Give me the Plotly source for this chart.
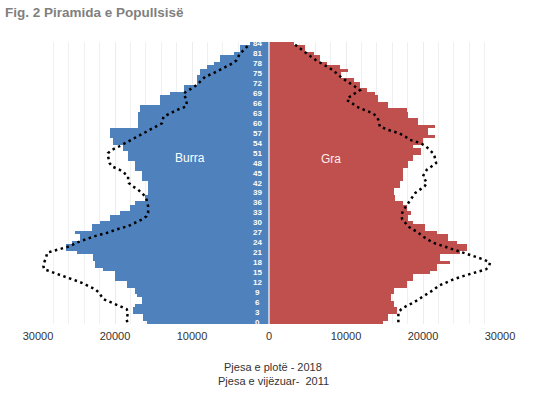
import plotly.graph_objects as go

ages = list(range(85))

male_2018 = [15900, 16300, 16300, 17600, 17600, 17400, 16500, 16500, 17200, 17400,
             17400, 18500, 18500, 20000, 20000, 20000, 21500, 22600, 22600, 22800,
             22800, 25000, 26300, 26300, 25600, 24500, 24500, 25200, 23000, 23000,
             21900, 20600, 20600, 19400, 18000, 18000, 17400, 16100, 16100, 15700,
             15700, 15700, 15700, 16500, 16500, 16500, 17400, 17400, 17400, 18300,
             18300, 18300, 18900, 18900, 20200, 20200, 20600, 20600, 20600, 17000,
             17000, 17000, 17000, 17000, 16700, 16700, 14200, 14200, 14200, 12900,
             11100, 11100, 9400, 9400, 9400, 9000, 9000, 8100, 7200, 6400,
             6400, 4600, 3800, 3800, 2500]

female_2018 = [14800, 15500, 15500, 16600, 16600, 16200, 16200, 15900, 15900, 16200,
               16200, 17900, 17900, 18700, 18700, 20900, 21800, 21800, 23500, 22200,
               22200, 24800, 25700, 25700, 24400, 23300, 23300, 21800, 20300, 20300,
               18700, 18100, 18100, 18500, 17900, 17900, 17400, 16400, 16400, 16200,
               16200, 17000, 17000, 17400, 17400, 17400, 17400, 18100, 18100, 18700,
               18700, 19800, 19800, 18700, 20000, 20000, 21600, 20700, 20700, 21600,
               19400, 19400, 18100, 18100, 17900, 15500, 15500, 14200, 14200, 13800,
               12700, 11800, 11800, 11000, 9400, 9400, 10300, 9200, 7500, 6600,
               6600, 5800, 4700, 4700, 3200]

male_2011 = [18400, 18500, 18400, 18300, 18500, 19400, 20500, 21500, 21800, 22100,
             22600, 23500, 24400, 25600, 26700, 28000, 29200, 29300, 29200, 29000,
             28900, 28800, 27300, 25800, 25000, 23900, 22600, 21000, 19800, 18300,
             17400, 16500, 15900, 15700, 15700, 15700, 15800, 15900, 16100, 16500,
             17000, 17700, 18200, 18300, 18300, 18800, 19400, 20400, 20700, 20800,
             20900, 20900, 20400, 19500, 18700, 17800, 17000, 16200, 15400, 14600,
             13900, 13800, 13700, 12800, 12000, 10800, 10700, 10700, 10900, 11100,
             10400, 9700, 9200, 8700, 8300, 7300, 6400, 5600, 4800, 4200,
             4000, 3800, 3300, 2900, 2500]

female_2011 = [16800, 16800, 16800, 16800, 17200, 17900, 18800, 19500, 20200, 20900,
               21500, 22000, 23000, 24000, 25300, 26800, 28200, 28600, 28700, 27800,
               26500, 25000, 23600, 22500, 21300, 20600, 19900, 19400, 18700, 18000,
               17700, 17300, 17200, 17300, 17500, 17800, 18000, 18300, 18600, 19000,
               19600, 20200, 20500, 20200, 20000, 20200, 20500, 21100, 21700, 21600,
               21500, 21300, 20900, 20400, 19700, 18300, 17700, 16900, 15500, 14400,
               14300, 14200, 14000, 13500, 12400, 11400, 10800, 10100, 10500, 11100,
               11800, 11200, 10500, 9900, 9300, 8800, 8300, 7600, 6800, 6100,
               5500, 4900, 4300, 3700, 3200]

tick_values = [-30000, -20000, -10000, 0, 10000, 20000, 30000]
tick_labels = ["30000", "20000", "10000", "0", "10000", "20000", "30000"]
age_labels = list(range(0, 85, 3))

BLUE = "#4F81BD"
RED = "#C0504D"
FONT = "Liberation Sans, Arial"

fig = go.Figure()
fig.add_trace(go.Bar(y=ages, x=[-v for v in male_2018], orientation="h",
                     marker=dict(color=BLUE, line=dict(width=0)), name="Burra 2018"))
fig.add_trace(go.Bar(y=ages, x=female_2018, orientation="h",
                     marker=dict(color=RED, line=dict(width=0)), name="Gra 2018"))
fig.add_trace(go.Scatter(y=ages, x=[-v for v in male_2011], mode="lines",
                         line=dict(color="black", width=2.5, dash="2.5px,3.5px"),
                         name="Burra 2011"))
fig.add_trace(go.Scatter(y=ages, x=female_2011, mode="lines",
                         line=dict(color="black", width=2.5, dash="2.5px,3.5px"),
                         name="Gra 2011"))

annotations = []
for a in age_labels:
    annotations.append(dict(x=-1550, y=a, xref="x", yref="y", text="<b>%d</b>" % a,
                            showarrow=False, font=dict(size=8, color="white", family=FONT),
                            xanchor="center", yanchor="middle"))
annotations.append(dict(x=-10300, y=49.5, xref="x", yref="y", text="Burra", showarrow=False,
                        font=dict(size=12, color="white", family=FONT)))
annotations.append(dict(x=8050, y=49.3, xref="x", yref="y", text="Gra", showarrow=False,
                        font=dict(size=12, color="#fbeeee", family=FONT)))
annotations.append(dict(x=0.509, y=-0.152, xref="paper", yref="paper",
                        text="Pjesa e plotë - 2018", showarrow=False,
                        font=dict(size=11, color="#333333", family=FONT),
                        xanchor="center", yanchor="middle"))
annotations.append(dict(x=0.509, y=-0.202, xref="paper", yref="paper",
                        text="Pjesa e vijëzuar-  2011", showarrow=False,
                        font=dict(size=11, color="#333333", family=FONT),
                        xanchor="center", yanchor="middle"))

fig.update_layout(
    width=560, height=396,
    margin=dict(l=38, r=60, t=42, b=72),
    paper_bgcolor="white", plot_bgcolor="white",
    barmode="relative", bargap=0,
    showlegend=False,
    title=dict(text="<b>Fig. 2 Piramida e Popullsisë</b>", x=0.009, xanchor="left",
               y=0.97, yanchor="middle",
               font=dict(size=13.5, color="#7f7f7f",
                         family="Liberation Sans Narrow, Arial Narrow, Liberation Sans")),
    annotations=annotations,
    shapes=[dict(type="line", xref="x", yref="paper", x0=0, x1=0, y0=0, y1=1,
                 line=dict(color="white", width=1.2), layer="above")],
)
fig.update_xaxes(range=[-30000, 30000], tickmode="array", tickvals=tick_values,
                 ticktext=tick_labels, showgrid=True, gridcolor="#ececec", gridwidth=1,
                 zeroline=False, showline=False, ticks="", ticklabelstandoff=4,
                 tickfont=dict(size=11, color="#333333", family=FONT),
                 minor=dict(tickmode="linear", tick0=0, dtick=2000, showgrid=True,
                            gridcolor="#f0f0f0", gridwidth=1, ticks=""))
fig.update_yaxes(range=[-0.5, 84.5], visible=False, showgrid=False)

fig.write_html("out.html", config={"displayModeBar": False},
               post_script="document.body.style.margin='0';")
